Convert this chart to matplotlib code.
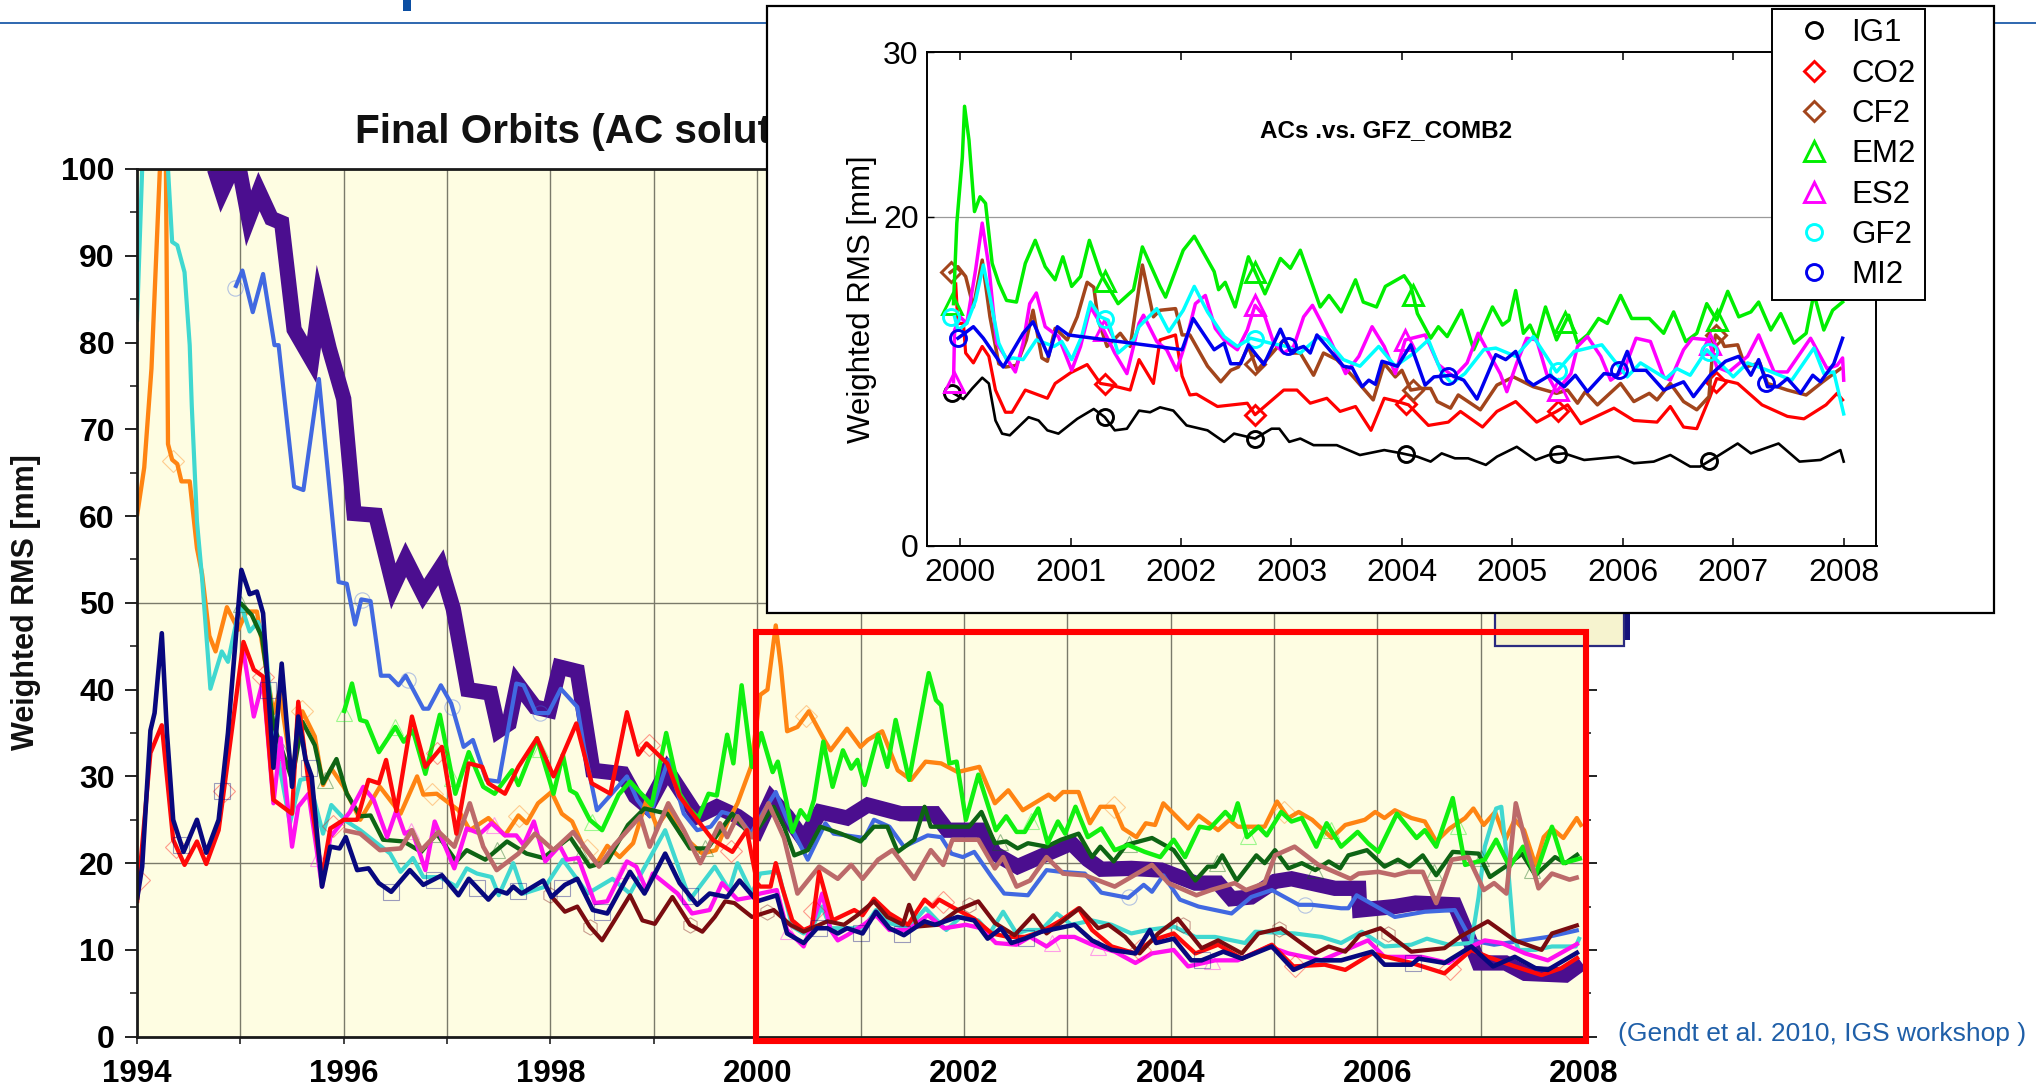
# coding: utf-8
"""
Weighted RMS of the final orbits, with the ACs vs. GFZ_COMB2 panel on top.
Values are read off the picture as (year, rms in mm) knots.
"""

import matplotlib
matplotlib.use("Agg")
import matplotlib.pyplot as plt
import numpy as np
from matplotlib.lines import Line2D
from matplotlib.patches import Rectangle

plt.rcParams['font.family'] = ['Liberation Sans', 'DejaVu Sans']

W, H = 2036, 1086

# ------------------------------------------------------------------------
# main chart

navy = [(1994.0,15.8),(1994.05,19.6),(1994.13,35.3),(1994.17,37.3),(1994.24,46.5),(1994.29,35),(1994.35,25),(1994.45,21.3),
        (1994.58,25),(1994.67,21.2),(1994.79,25),(1994.88,35),(1995.01,53.8),(1995.09,51),(1995.16,51.3),(1995.22,48.8),
        (1995.32,31),(1995.40,43),(1995.50,28.8),(1995.56,36.9),(1995.63,32),(1995.69,30),(1995.79,17.3),(1995.87,21.9),
        (1995.96,21.7),(1996.02,23),(1996.13,19.2),(1996.24,19.4),(1996.34,17.7),(1996.46,16.7),(1996.64,19.2),(1996.77,17.5),
        (1996.95,18.6),(1997.11,16.3),(1997.21,18.2),(1997.40,15.8),(1997.48,16.9),(1997.58,16.5),(1997.64,17.3),(1997.72,16.5),
        (1997.93,18),(1998.01,16.1),(1998.14,17.5),(1998.26,18.2),(1998.41,14.6),(1998.55,14.2),(1998.77,19),(1998.91,16.5),
        (1999.11,21.1),(1999.25,17.7),(1999.42,15.2),(1999.54,16.5),(1999.71,16.1),(1999.83,18),(2000.0,15.6),(2000.19,16.3),
        (2000.29,11.9),(2000.45,10.8),(2000.58,12.5),(2000.68,12.5),(2000.78,11.9),(2000.87,12.5),(2001.02,11.9),(2001.15,14.4),
        (2001.28,12.5),(2001.42,11.7),(2001.62,13.3),(2001.72,12.9),(2001.94,13.8),(2002.10,13.4),(2002.23,11.3),(2002.36,12.5),
        (2002.46,10.8),(2002.59,11.3),(2002.75,12.1),(2003.07,12.9),(2003.24,11.1),(2003.43,10),(2003.66,9.6),(2003.80,12.3),
        (2003.86,10.8),(2004.03,11.3),(2004.20,8.8),(2004.30,8.8),(2004.51,9.8),(2004.69,9),(2004.98,10.4),(2005.19,7.7),
        (2005.40,8.8),(2005.65,8.8),(2005.95,9.8),(2006.07,8.3),(2006.33,8.3),(2006.40,9),(2006.65,8.5),(2006.91,10.4),
        (2007.12,8.1),(2007.33,9.2),(2007.53,7.9),(2007.65,7.7),(2007.95,9.8)]

red = [(1994.0,15.4),(1994.13,32.7),(1994.24,35.9),(1994.35,22.7),(1994.46,19.8),(1994.58,22.5),(1994.67,19.9),(1994.79,23.8),
       (1994.88,31.9),(1995.03,45.5),(1995.13,42.3),(1995.22,41.5),(1995.32,27.3),(1995.50,25.7),(1995.56,38.6),(1995.67,28.4),
       (1995.79,18.4),(1995.87,24),(1996.0,25),(1996.13,25),(1996.24,29.6),(1996.34,29.2),(1996.41,31.9),(1996.51,26),
       (1996.66,36.9),(1996.79,31.1),(1996.95,33.4),(1997.09,23.4),(1997.21,31.5),(1997.34,31.1),(1997.40,29.2),(1997.56,28),
       (1997.69,31.1),(1997.87,34.4),(1998.03,30),(1998.25,36.1),(1998.40,29.2),(1998.58,28),(1998.74,37.4),(1998.85,32.5),
       (1998.93,33.8),(1999.13,31.5),(1999.25,27.7),(1999.42,25),(1999.57,22.7),(1999.76,21.3),(1999.90,23.8),(2000.0,17.7),
       (2000.03,17.3),(2000.13,17.3),(2000.18,20),(2000.24,17.3),(2000.34,13.4),(2000.45,12.3),(2000.53,12.7),(2000.60,19),
       (2000.73,13.4),(2000.94,14.6),(2001.02,14),(2001.13,15.9),(2001.28,14.2),(2001.46,12.9),(2001.62,15.8),(2001.70,15),
       (2001.76,15.8),(2001.91,14.8),(2002.10,13.6),(2002.27,11.9),(2002.43,11.5),(2002.59,11.5),(2002.75,12.1),(2002.94,13.4),
       (2003.11,14.8),(2003.24,12.3),(2003.43,10.4),(2003.66,9.6),(2003.82,11.1),(2004.03,11.9),(2004.24,9.6),(2004.46,10.6),
       (2004.69,9),(2004.98,10.6),(2005.19,8.1),(2005.49,8.3),(2005.69,7.7),(2005.95,9.6),(2006.33,8.5),(2006.65,7.3),
       (2006.91,10),(2007.07,9.2),(2007.33,8.1),(2007.59,7.1),(2007.78,7.9),(2007.95,9.2)]

orange = [(1994.0,60),(1994.07,65.6),(1994.14,77),(1994.22,99.6),(1994.25,103),(1994.28,100),(1994.30,68.3),(1994.34,66.5),
          (1994.39,66),(1994.43,64),(1994.51,64),(1994.58,56.3),(1994.63,53.3),(1994.70,46.2),(1994.76,44.4),(1994.87,49.5),
          (1994.98,46.9),(1995.06,49),(1995.16,49),(1995.32,37.3),(1995.38,39.8),(1995.50,30.3),(1995.60,37.5),(1995.72,34.6),
          (1995.80,29),(1995.88,30.9),(1996.0,28.8),(1996.16,25),(1996.35,28.8),(1996.55,25.7),(1996.71,30),(1996.77,27.9),
          (1996.90,28),(1997.11,26.1),(1997.22,23.8),(1997.40,25.2),(1997.56,23.2),(1997.69,25.5),(1997.77,24.6),(1997.88,26.9),
          (1998.01,28.2),(1998.11,25.7),(1998.21,24.8),(1998.32,21.9),(1998.45,20),(1998.55,22),(1998.67,20.7),(1998.80,22.3),
          (1998.93,27.3),(1999.03,24.2),(1999.14,26.1),(1999.26,23.4),(1999.47,21.1),(1999.60,21.5),(1999.71,24.6),(1999.81,26.9),
          (1999.94,31.1),(2000.03,39.4),(2000.10,40),(2000.18,47.4),(2000.23,42.6),(2000.29,35.2),(2000.39,35.7),(2000.50,37.5),
          (2000.65,34.2),(2000.71,33),(2000.87,35.5),(2001.0,33.4),(2001.07,34.2),(2001.21,35.2),(2001.36,30.7),(2001.49,29.6),
          (2001.63,31.7),(2001.78,31.5),(2001.94,30.5),(2002.15,31.1),(2002.30,26.9),(2002.43,28.4),(2002.57,26.1),(2002.82,27.9),
          (2002.88,27.3),(2002.96,28.2),(2003.11,28.2),(2003.22,24.6),(2003.32,26.5),(2003.45,26.5),(2003.54,24),(2003.67,23),
          (2003.76,24.6),(2003.85,24.4),(2003.93,26.9),(2004.03,25.7),(2004.17,24),(2004.27,25.5),(2004.35,24.8),(2004.46,23.8),
          (2004.57,25),(2004.65,24.2),(2004.91,24.2),(2005.03,27.1),(2005.14,25.2),(2005.24,25.9),(2005.37,25),(2005.56,22.9),
          (2005.69,24.4),(2005.88,25),(2005.98,25.9),(2006.07,25.2),(2006.17,26.1),(2006.33,25.2),(2006.46,24.8),(2006.57,22.5),
          (2006.70,24),(2006.85,25.2),(2006.93,26.3),(2007.03,24.4),(2007.14,25.9),(2007.24,22.7),(2007.33,25),(2007.42,23.8),
          (2007.53,19.8),(2007.61,23),(2007.69,24),(2007.80,22.9),(2007.93,25.2),(2007.98,24.2)]

turquoise = [(1994.0,82.4),(1994.05,100),(1994.17,104),(1994.30,100),(1994.34,91.6),(1994.39,91.2),(1994.46,88.1),(1994.51,79.7),
             (1994.53,72.7),(1994.58,59.4),(1994.63,52.8),(1994.71,40.1),(1994.82,44.4),(1994.88,43.2),(1995.0,50),(1995.09,46.7),
             (1995.17,47.8),(1995.24,45.7),(1995.32,35),(1995.48,24.6),(1995.58,29.6),(1995.66,29.8),(1995.80,23.4),(1995.88,26.7),
             (1996.03,24.8),(1996.16,23.8),(1996.32,22.3),(1996.45,21.1),(1996.55,19),(1996.67,20.6),(1996.77,18.4),(1996.93,18.4),
             (1997.09,17.3),(1997.19,19.4),(1997.29,18.8),(1997.43,18.4),(1997.50,16.3),(1997.64,20),(1997.74,16.5),(1997.95,17.3),
             (1998.12,20.4),(1998.36,16.5),(1998.60,18.2),(1998.77,16.5),(1999.11,23.8),(1999.35,15.8),(1999.59,19.6),(1999.73,16.9),
             (1999.81,20),(1999.95,16.5),(2000.03,18.8),(2000.16,19),(2000.21,18.8),(2000.34,12.7),(2000.45,11.9),(2000.53,12.5),
             (2000.63,15),(2000.71,12.5),(2000.87,12.5),(2001.03,12.5),(2001.15,14.6),(2001.28,13.1),(2001.46,12.5),(2001.63,14.8),
             (2001.83,12.3),(2001.97,13.8),(2002.14,13.4),(2002.25,11.9),(2002.38,14.4),(2002.51,11.9),(2002.62,12.3),(2002.75,12.3),
             (2002.90,14.2),(2003.04,12.9),(2003.24,13.4),(2003.43,12.9),(2003.62,11.9),(2003.78,12.3),(2004.03,12.7),(2004.24,11.5),
             (2004.43,11.5),(2004.72,10.8),(2004.82,12.1),(2005.20,11.9),(2005.46,11.5),(2005.65,10.8),(2005.85,12.1),(2006.07,10.4),
             (2006.33,10.6),(2006.48,11.3),(2006.69,10.6),(2006.91,10.8),(2006.98,16.1),(2007.04,21.9),(2007.15,26.3),(2007.20,26.5),
             (2007.27,18.8),(2007.32,11.5),(2007.37,10),(2007.53,10),(2007.69,10.4),(2007.92,10.4),(2007.96,11.5)]

purple = [(1994.75,100),(1994.82,97.4),(1994.92,100),(1994.99,100),(1995.08,94.3),(1995.18,97.4),(1995.30,94.3),(1995.40,93.8),
          (1995.52,81.5),(1995.69,78),(1995.76,84.2),(1995.86,79.3),(1996.0,73.5),(1996.10,60.3),(1996.31,60.1),(1996.48,51.9),
          (1996.60,55),(1996.77,51),(1996.94,54.1),(1997.06,49.3),(1997.20,40),(1997.42,39.6),(1997.50,35.3),(1997.60,36.1),
          (1997.68,40.7),(1997.85,38),(1997.99,37.6),(1998.09,42.6),(1998.26,42.1),(1998.41,30.7),(1998.70,30.3),(1998.82,27.7),
          (1998.94,26.5),(1999.13,30.7),(1999.42,25.4),(1999.61,26.5),(1999.81,25.4),(2000.0,23.8),(2000.14,27.4),(2000.29,25.4),
          (2000.45,22.7),(2000.61,25.9),(2000.87,25.2),(2001.07,26.7),(2001.39,25.7),(2001.72,25.7),(2001.84,23.8),(2002.17,23.8),
          (2002.30,21.1),(2002.52,19.6),(2003.04,22.3),(2003.20,20.4),(2003.33,19.3),(2003.62,19.4),(2003.91,19.2),(2004.24,17.7),
          (2004.46,17.7),(2004.59,15.9),(2004.78,16.1),(2005.01,17.9),(2005.17,18.2),(2005.59,17.1),(2005.82,17.1),(2005.83,14.6),
          (2006.17,15),(2006.37,15.4),(2006.75,15.2),(2006.88,11.5),(2006.98,8.5),(2007.24,8.5),(2007.43,7.3),(2007.82,7.1),
          (2007.98,8.5)]

royal = [(1994.95,86.3),(1995.02,88.3),(1995.12,83.5),(1995.22,87.9),(1995.33,79.7),(1995.37,79.7),(1995.52,63.4),(1995.61,63),
         (1995.76,75.8),(1995.95,52.4),(1996.03,52.2),(1996.11,47.5),(1996.17,50.4),(1996.26,50.2),(1996.36,41.6),(1996.44,41.6),
         (1996.53,40.5),(1996.60,41.6),(1996.77,37.8),(1996.82,37.8),(1996.94,40.5),(1997.04,38.4),(1997.16,33.4),(1997.25,34.2),
         (1997.38,29.6),(1997.50,29.4),(1997.67,40.7),(1997.74,40.5),(1997.86,37.3),(1997.98,37.3),(1998.10,40.1),(1998.26,38),
         (1998.33,33),(1998.45,26.1),(1998.57,27.7),(1998.74,30),(1998.84,27.3),(1998.96,25.4),(1999.14,31.9),(1999.29,25.7),
         (1999.42,23.8),(1999.55,24.2),(1999.66,25.9),(1999.81,25.4),(1999.94,23.4),(2000.05,25.7),(2000.18,28.2),(2000.29,25),
         (2000.49,20.4),(2000.66,24.6),(2000.74,23.4),(2001.04,22.9),(2001.13,25),(2001.28,24.2),(2001.42,21.9),(2001.65,23.2),
         (2001.78,23),(2001.88,21.1),(2001.99,20.7),(2002.10,21.3),(2002.27,18.4),(2002.39,16.5),(2002.62,16.3),(2002.80,19.2),
         (2002.94,19),(2003.17,18.8),(2003.33,16.6),(2003.59,16),(2003.74,17.5),(2003.82,16.7),(2003.93,18.6),(2004.09,15.8),
         (2004.27,15),(2004.59,14.2),(2004.78,16.1),(2004.98,16.9),(2005.24,15.2),(2005.37,15.2),(2005.65,14.8),(2005.72,14.8),
         (2005.80,16.3),(2006.17,13.8),(2006.46,14.4),(2006.75,14.6),(2006.91,11.1),(2007.13,10.6),(2007.43,11.1),(2007.65,11.5),
         (2007.95,12.3)]

lime = [(1996.0,37.3),(1996.08,40.7),(1996.16,36.5),(1996.22,36.3),(1996.34,32.8),(1996.50,35.7),(1996.58,34),(1996.67,35.3),
        (1996.79,30.3),(1996.93,37.1),(1997.08,28),(1997.21,32.8),(1997.35,28.8),(1997.46,28),(1997.63,30.7),(1997.69,29),
        (1997.87,34.4),(1998.03,28),(1998.12,32.5),(1998.19,28.4),(1998.25,28),(1998.38,25),(1998.50,23.8),(1998.66,27.9),
        (1998.77,29.4),(1998.98,26.7),(1999.12,35),(1999.25,28),(1999.34,26.3),(1999.43,25.2),(1999.53,28),(1999.61,27.8),
        (1999.71,34.8),(1999.77,31.5),(1999.85,40.5),(1999.95,31.1),(2000.04,35),(2000.15,30.5),(2000.20,31.7),(2000.28,27.3),
        (2000.34,23.6),(2000.42,26.1),(2000.49,25),(2000.55,27.3),(2000.64,34),(2000.73,28.8),(2000.83,33),(2000.91,30.9),
        (2000.97,31.9),(2001.04,29),(2001.17,34.8),(2001.26,31.1),(2001.34,36.5),(2001.47,29.6),(2001.66,41.9),(2001.73,38.8),
        (2001.78,38.2),(2001.86,31.5),(2001.93,31.7),(2002.02,25),(2002.14,30.2),(2002.31,23.8),(2002.41,25.4),(2002.51,23.6),
        (2002.59,23.6),(2002.72,26.3),(2002.81,22.3),(2002.91,24.8),(2002.98,23.4),(2003.08,26.5),(2003.20,23),(2003.33,24),
        (2003.46,21.5),(2003.59,22.1),(2003.75,21.3),(2003.90,20.7),(2004.03,22.7),(2004.14,20.7),(2004.28,24.2),(2004.38,24),
        (2004.53,25.9),(2004.60,25),(2004.65,26.9),(2004.74,23),(2004.85,24.2),(2004.93,23.2),(2005.07,25.9),(2005.17,24.8),
        (2005.27,25.2),(2005.41,21.9),(2005.51,24.6),(2005.65,21.9),(2005.81,23.6),(2005.91,22.3),(2006.01,21.3),(2006.19,25.7),
        (2006.38,22.9),(2006.46,23.8),(2006.57,21.9),(2006.73,27.5),(2006.85,19.8),(2007.04,20.4),(2007.15,22.7),(2007.28,19.6),
        (2007.41,21.9),(2007.53,18.6),(2007.69,24.2),(2007.80,20),(2007.98,20.6)]

dark_green = [(1995.0,50),(1995.11,48.6),(1995.21,46),(1995.32,36),(1995.50,29.6),(1995.60,36.3),(1995.72,33.6),(1995.80,29.2),
              (1995.93,32),(1996.03,28),(1996.16,25.4),(1996.26,25.5),(1996.38,22.7),(1996.58,22.5),(1996.75,21.3),(1996.90,23.4),
              (1997.09,20.2),(1997.19,21.5),(1997.37,20.4),(1997.58,22.5),(1997.77,21.1),(1997.93,20.6),(1998.19,23),(1998.38,19.6),
              (1998.55,20.2),(1998.75,24.4),(1998.91,26.3),(1999.13,25.7),(1999.35,21.7),(1999.52,21.7),(1999.76,25.7),(1999.95,23),
              (2000.16,26.5),(2000.26,24.2),(2000.36,20.9),(2000.49,21.5),(2000.61,24.2),(2000.81,23.4),(2001.0,22.5),(2001.13,24.2),
              (2001.26,24.2),(2001.36,21.3),(2001.52,22.7),(2001.62,26.5),(2001.68,24.2),(2001.91,24.2),(2002.05,24.2),(2002.17,25.9),
              (2002.30,22.3),(2002.41,22.5),(2002.52,21.7),(2002.62,22.3),(2002.80,21.9),(2002.94,22.7),(2003.11,23.4),(2003.24,20.7),
              (2003.32,21.9),(2003.45,20.2),(2003.57,22.1),(2003.82,22.9),(2004.03,21.5),(2004.24,18),(2004.36,19.6),(2004.43,19.6),
              (2004.50,20.9),(2004.64,18),(2004.83,20.9),(2004.91,20),(2005.01,21.5),(2005.14,19.4),(2005.27,20),(2005.40,19.2),
              (2005.53,20.2),(2005.64,19.4),(2005.72,20.9),(2005.90,21.5),(2006.07,19.6),(2006.20,20.4),(2006.31,19.6),(2006.44,20.9),
              (2006.57,18.6),(2006.73,21.3),(2006.98,21.1),(2007.09,18.4),(2007.24,19.6),(2007.40,21.1),(2007.53,18.6),(2007.72,20.7),
              (2007.82,20),(2007.95,21.1)]

magenta = [(1995.03,44.4),(1995.13,36.9),(1995.22,41.1),(1995.32,26.9),(1995.39,34.4),(1995.50,21.9),(1995.56,26.5),(1995.66,28),
           (1995.79,17.3),(1995.87,23),(1996.06,25.9),(1996.19,28.8),(1996.29,27.3),(1996.42,23),(1996.51,26.1),(1996.59,23.4),
           (1996.66,23.8),(1996.79,19.2),(1996.88,24.8),(1997.07,19.4),(1997.19,24),(1997.32,23.4),(1997.43,24.6),(1997.56,23.2),
           (1997.67,23.2),(1997.74,22.1),(1997.84,24.8),(1997.95,20.2),(1998.09,22),(1998.16,20.4),(1998.27,20.6),(1998.43,15.4),
           (1998.55,15.6),(1998.74,20.2),(1998.83,19.6),(1998.93,16.9),(1998.99,18.8),(1999.23,16.5),(1999.37,14.2),(1999.54,14.6),
           (1999.66,17.7),(1999.81,15.8),(1999.95,16.1),(2000.03,16.5),(2000.19,16.9),(2000.29,12.3),(2000.45,10.4),(2000.53,12.9),
           (2000.63,16.5),(2000.71,12.3),(2000.78,11.1),(2000.87,11.7),(2001.03,12.9),(2001.15,14),(2001.28,12.3),(2001.46,12.3),
           (2001.65,14),(2001.81,12.5),(2002.02,12.9),(2002.17,12.5),(2002.31,10.8),(2002.51,10.6),(2002.64,11.5),(2002.80,10.4),
           (2002.93,11.5),(2003.07,11.5),(2003.24,10.6),(2003.46,9.8),(2003.66,8.5),(2003.82,9.6),(2004.03,10),(2004.17,8.1),
           (2004.43,8.8),(2004.65,8.8),(2004.95,10.4),(2005.14,9.6),(2005.46,8.8),(2005.91,11.1),(2006.07,9.2),(2006.43,9.2),
           (2006.69,8.5),(2006.91,10.4),(2007.04,11.1),(2007.20,10.8),(2007.43,9.6),(2007.65,8.8),(2007.95,10.8)]

maroon = [(1998.0,16.3),(1998.14,14.4),(1998.26,15),(1998.38,12.7),(1998.50,11.1),(1998.62,13.4),(1998.77,16.3),(1998.89,13.4),
          (1999.01,13),(1999.18,16.1),(1999.35,12.9),(1999.47,12.1),(1999.59,13.8),(1999.69,15.6),(1999.78,15.4),(1999.95,13.8),
          (2000.16,14.6),(2000.32,12.9),(2000.45,12.1),(2000.68,13.3),(2000.84,12.9),(2000.97,14),(2001.13,15.6),(2001.26,13.8),
          (2001.41,12.9),(2001.47,15.2),(2001.55,12.7),(2001.75,12.9),(2001.94,14.6),(2002.14,15.6),(2002.30,13.1),(2002.49,11.7),
          (2002.67,14),(2002.80,11.9),(2002.91,12.9),(2003.12,14.8),(2003.30,12.5),(2003.40,12.9),(2003.56,11.5),(2003.70,9.6),
          (2003.88,11.9),(2004.07,13.6),(2004.30,10.2),(2004.46,11.1),(2004.69,9.6),(2004.85,11.9),(2005.07,12.5),(2005.40,9.6),
          (2005.53,10.4),(2005.69,9.8),(2005.83,11.7),(2006.03,12.5),(2006.33,9.8),(2006.65,10.2),(2006.80,11.5),(2007.07,13.3),
          (2007.33,11.1),(2007.59,10),(2007.69,11.9),(2007.95,12.9)]

rosy = [(1996.0,23.8),(1996.16,23.4),(1996.35,21.5),(1996.55,21.7),(1996.66,23.8),(1996.75,21.5),(1996.92,23.6),(1997.07,21.9),
        (1997.22,26.9),(1997.35,21.9),(1997.48,19.2),(1997.69,21.1),(1997.85,23.4),(1998.03,21.5),(1998.22,23.6),(1998.47,19.6),
        (1998.62,22.1),(1998.87,25.4),(1998.96,21.9),(1999.14,26.9),(1999.29,23.8),(1999.45,20),(1999.64,24.6),(1999.71,23),
        (1999.81,25.4),(1999.95,23),(2000.11,26.9),(2000.26,22.9),(2000.39,16.5),(2000.60,19.6),(2000.78,18.2),(2000.91,19.8),
        (2001.02,18.2),(2001.17,20.4),(2001.31,21.5),(2001.52,18.2),(2001.68,21.5),(2001.80,19.8),(2001.89,22.7),(2002.14,22.7),
        (2002.30,19.4),(2002.38,20.7),(2002.51,17.3),(2002.64,18),(2002.80,20.7),(2002.96,18.8),(2003.17,18.6),(2003.46,17.3),
        (2003.82,19.8),(2003.98,17.7),(2004.25,16.3),(2004.39,16.9),(2004.62,17.7),(2004.73,16.9),(2004.91,17.7),(2005.01,20.9),
        (2005.20,21.9),(2005.43,19.8),(2005.74,18.2),(2005.82,18.8),(2006.01,19),(2006.17,18.6),(2006.30,19),(2006.44,19),
        (2006.57,15.4),(2006.72,20.4),(2006.88,20.7),(2007.03,16.9),(2007.13,17.7),(2007.25,16.5),(2007.34,26.9),(2007.43,22.7),
        (2007.56,17.1),(2007.69,18.8),(2007.86,18.1),(2007.95,18.4)]

navy_marks = [1994.43, 1994.82, 1995.27, 1995.66, 1996.46, 1996.87, 1997.29, 1997.69, 1998.11, 1998.5, 1999.35, 2000.6, 2001.0, 2001.4, 2002.6, 2004.3, 2006.35]
red_marks = [1994.02, 1994.38, 1994.84, 1995.22, 1995.9, 1996.9, 1998.95, 1999.75, 2000.55, 2001.8, 2003.7, 2005.2, 2006.7]
green_marks = [1995.01, 1995.41, 1995.82, 1996.9, 1997.48, 1998.3, 1999.5, 2002.35, 2003.6, 2004.45, 2005.4, 2006.55, 2007.0, 2007.5]
magenta_marks = [1995.75, 1996.65, 1997.45, 1998.7, 2000.3, 2002.85, 2003.3, 2004.4]
lime_marks = [1996.0, 1996.5, 1997.05, 1997.9, 1998.4, 2002.65, 2004.75, 2005.55, 2006.78]
orange_marks = [1994.35, 1995.6, 1996.85, 1997.7, 1998.35, 2000.47, 2003.45, 2005.1]
royal_marks = [1994.95, 1996.18, 1996.62, 1997.05, 1997.9, 2003.6, 2005.3]
maroon_marks = [1998.0, 1998.38, 1999.35, 2000.1, 2002.05, 2004.12, 2005.05, 2006.1]

# ------------------------------------------------------------------------
# inset panel

ig1 = [(1999.94,9.25),(2000.03,8.9),(2000.11,9.55),(2000.20,10.2),(2000.26,9.85),(2000.32,7.6),(2000.38,6.8),(2000.45,6.7),
       (2000.62,7.8),(2000.71,7.6),(2000.79,7),(2000.89,6.8),(2001.06,7.7),(2001.21,8.3),(2001.31,7.8),(2001.40,7),(2001.51,7.1),
       (2001.62,8.2),(2001.72,8.1),(2001.81,8.4),(2001.93,8.2),(2002.05,7.3),(2002.24,7),(2002.39,6.3),(2002.48,6.8),(2002.67,6.5),
       (2002.82,7.1),(2002.89,7.1),(2002.98,6.3),(2003.08,6.5),(2003.20,6.1),(2003.41,6.1),(2003.62,5.5),(2003.84,5.8),(2004.0,5.6),
       (2004.14,5.4),(2004.26,5.1),(2004.36,5.6),(2004.48,5.3),(2004.60,5.3),(2004.76,4.9),(2004.86,5.4),(2005.04,6),(2005.21,5.2),
       (2005.33,5.5),(2005.47,5.6),(2005.65,5.2),(2005.96,5.4),(2006.10,5),(2006.28,5.1),(2006.43,5.5),(2006.61,4.8),(2006.70,4.8),
       (2006.85,5.4),(2007.04,6.2),(2007.16,5.6),(2007.41,6.2),(2007.60,5.1),(2007.79,5.2),(2007.97,5.8),(2008.0,5.1)]

co2 = [(1999.96,15.9),(1999.98,13.5),(2000.03,13.5),(2000.05,11.7),(2000.12,11.1),(2000.20,12.1),(2000.26,11.5),(2000.32,9.45),
       (2000.41,8.1),(2000.47,8.1),(2000.59,9.45),(2000.79,8.95),(2000.86,9.85),(2001.0,10.5),(2001.15,11),(2001.27,9.85),(2001.36,9.75),
       (2001.54,9.45),(2001.62,11.3),(2001.75,9.85),(2001.81,12.5),(2001.95,12.8),(2002.01,10.3),(2002.08,9.15),(2002.14,9.2),
       (2002.33,8.45),(2002.60,8.65),(2002.67,7.95),(2002.93,9.45),(2003.05,9.45),(2003.17,8.65),(2003.32,8.95),(2003.44,8.15),
       (2003.58,8.45),(2003.72,7),(2003.84,8.95),(2003.96,8.75),(2004.06,8.55),(2004.24,7.3),(2004.42,7.5),(2004.53,8.15),(2004.73,7.2),
       (2004.86,8.15),(2005.03,8.75),(2005.22,7.5),(2005.40,8.15),(2005.50,8.55),(2005.62,7.4),(2005.92,8.35),(2006.10,7.6),(2006.31,7.5),
       (2006.43,8.45),(2006.55,7.2),(2006.67,7.1),(2006.79,9.05),(2006.85,10.15),(2007.04,9.85),(2007.26,8.55),(2007.49,7.85),(2007.64,7.7),
       (2007.84,8.55),(2007.94,9.25),(2007.99,8.85)]

cf2 = [(1999.91,16.6),(1999.98,16.95),(2000.05,16.35),(2000.12,14.5),(2000.20,17.35),(2000.27,13.9),(2000.35,11.05),(2000.41,10.85),
       (2000.51,10.95),(2000.60,12.5),(2000.66,14.3),(2000.74,11.4),(2000.79,11.2),(2000.86,13.2),(2000.97,12.5),(2001.06,13.9),(2001.15,16),
       (2001.21,15.7),(2001.25,13.7),(2001.33,12.1),(2001.45,12.9),(2001.54,12.1),(2001.65,17.05),(2001.75,13.9),(2001.81,14.3),(2001.95,14.4),
       (2002.01,12.8),(2002.08,12.8),(2002.24,10.9),(2002.36,9.95),(2002.45,10.65),(2002.52,10.85),(2002.61,12.1),(2002.69,10.65),(2002.93,12.5),
       (2003.02,11.7),(2003.08,11.7),(2003.20,10.35),(2003.29,11.7),(2003.41,11.3),(2003.56,10.25),(2003.74,8.85),(2003.84,11.05),(2003.94,10.25),
       (2004.0,10.65),(2004.08,9.45),(2004.17,9.55),(2004.26,9.55),(2004.32,8.75),(2004.44,8.35),(2004.51,9.15),(2004.71,8.25),(2004.86,9.75),
       (2005.01,10.25),(2005.19,9.65),(2005.40,9.25),(2005.50,9.45),(2005.59,8.65),(2005.66,9.35),(2005.77,8.55),(2005.98,9.85),(2006.10,8.75),
       (2006.24,9.25),(2006.31,8.85),(2006.43,9.85),(2006.55,8.75),(2006.67,8.25),(2006.78,9.05),(2006.81,11.5),(2006.84,12.8),(2006.90,12.4),
       (2006.92,12.1),(2007.04,12.2),(2007.11,10.85),(2007.24,11.1),(2007.31,9.85),(2007.49,9.45),(2007.66,9.15),(2007.81,9.95),(2007.97,10.75)]

em2 = [(1999.94,14.7),(1999.97,19.6),(2000.02,23.6),(2000.04,26.7),(2000.08,24.65),(2000.13,20.3),(2000.18,21.2),(2000.23,20.8),
       (2000.29,17.15),(2000.35,15.95),(2000.42,14.9),(2000.51,14.8),(2000.59,17.15),(2000.68,18.55),(2000.77,16.95),(2000.86,16.15),
       (2000.93,17.55),(2001.01,15.75),(2001.09,16.35),(2001.17,18.55),(2001.27,16.55),(2001.43,14.7),(2001.57,15.55),(2001.65,18.15),
       (2001.81,15.75),(2001.86,15.1),(2002.02,17.95),(2002.12,18.8),(2002.30,16.65),(2002.34,15.55),(2002.40,16),(2002.49,14.5),
       (2002.61,17.55),(2002.76,15.3),(2002.90,17.45),(2002.99,16.85),(2003.08,17.95),(2003.26,14.5),(2003.34,15.2),(2003.45,14.2),
       (2003.58,16.15),(2003.65,14.8),(2003.77,14.5),(2003.85,15.75),(2004.02,16.4),(2004.08,15.8),(2004.14,14.1),(2004.26,12.6),
       (2004.33,13.3),(2004.41,12.7),(2004.54,14.3),(2004.65,11.9),(2004.82,14.5),(2004.91,13.4),(2004.97,13.7),(2005.03,15.5),(2005.10,12.9),
       (2005.16,13.4),(2005.22,12.5),(2005.30,14.5),(2005.40,12.5),(2005.51,14),(2005.59,12.3),(2005.68,12.8),(2005.78,13.8),(2005.86,13.5),
       (2005.98,15.2),(2006.08,13.8),(2006.24,13.8),(2006.37,12.9),(2006.46,14.2),(2006.57,12.4),(2006.67,12.9),(2006.76,14.7),(2006.85,13.7),
       (2006.95,15.45),(2007.05,13.9),(2007.16,14.2),(2007.23,14.8),(2007.34,13.1),(2007.43,14.1),(2007.55,12.3),(2007.66,12.9),(2007.73,15.3),
       (2007.82,13.1),(2007.90,14.3),(2007.99,14.8)]

es2 = [(1999.94,9.95),(1999.95,13.1),(2000.0,13.9),(2000.06,13.5),(2000.14,16.75),(2000.20,19.6),(2000.26,16.95),(2000.33,12.3),
       (2000.50,10.55),(2000.57,12.3),(2000.63,14.7),(2000.69,15.35),(2000.77,13.3),(2000.89,12.7),(2001.01,10.65),(2001.09,12.1),(2001.18,14.5),
       (2001.27,13.5),(2001.40,11.7),(2001.51,10.45),(2001.62,13.5),(2001.66,14),(2001.78,12.4),(2001.87,11.9),(2001.96,10.65),(2002.04,12.3),
       (2002.13,14.7),(2002.22,15.2),(2002.31,13.2),(2002.39,12.5),(2002.51,11.9),(2002.60,13.1),(2002.67,14.6),(2002.76,13.9),(2002.84,12.3),
       (2002.93,11.7),(2003.02,12.1),(2003.11,13.9),(2003.19,14.6),(2003.26,13.7),(2003.35,12.5),(2003.49,10.45),(2003.61,11.5),(2003.73,13.3),
       (2003.84,12.1),(2003.94,10.45),(2004.03,12.5),(2004.21,12.8),(2004.33,11),(2004.47,10.25),(2004.59,11.1),(2004.69,12.9),(2004.77,11.9),
       (2004.89,10.45),(2004.95,9.35),(2005.04,11.1),(2005.13,12.6),(2005.22,12.5),(2005.31,10.45),(2005.40,9.35),(2005.53,10.45),(2005.59,12.1),
       (2005.68,12.7),(2005.80,11.5),(2005.89,10.05),(2006.01,10.65),(2006.12,12.6),(2006.25,12.4),(2006.37,10.25),(2006.43,10.05),(2006.55,11.9),
       (2006.63,12.6),(2006.78,12.5),(2006.85,10.85),(2006.96,10.55),(2007.13,11.5),(2007.23,12.8),(2007.37,10.55),(2007.49,10.55),(2007.70,12.6),
       (2007.85,10.75),(2007.94,10.95),(2007.99,11.4),(2008.0,10.05)]

gf2 = [(1999.95,13.9),(1999.98,13.1),(2000.06,13.5),(2000.14,14.9),(2000.21,17.05),(2000.27,15.1),(2000.35,12.3),(2000.42,11.3),
       (2000.48,11.4),(2000.57,11.3),(2000.69,12.5),(2000.85,12.1),(2000.92,12.4),(2001.01,11.3),(2001.10,12.7),(2001.18,14.8),(2001.27,13.9),
       (2001.34,13.7),(2001.43,11.7),(2001.57,12.5),(2001.62,13.3),(2001.78,14.4),(2001.89,13),(2002.02,14.3),(2002.12,15.75),(2002.24,14.2),
       (2002.39,12.7),(2002.51,12.1),(2002.63,12.6),(2002.81,12.3),(2002.96,12.1),(2003.08,11.7),(2003.25,12.7),(2003.32,12.5),(2003.47,11.3),
       (2003.62,10.9),(2003.79,12.1),(2003.94,10.9),(2004.11,11.7),(2004.24,12.5),(2004.35,10.65),(2004.45,9.85),(2004.57,10.45),(2004.74,11.9),
       (2004.85,12),(2005.03,11.5),(2005.19,12.7),(2005.40,10.55),(2005.56,11.8),(2005.81,12.2),(2006.04,10.25),(2006.16,11.1),(2006.39,10.15),
       (2006.49,10.75),(2006.61,10.35),(2006.76,11.9),(2007.0,10.25),(2007.13,11.1),(2007.31,10.65),(2007.53,10.05),(2007.73,12),(2007.82,10.45),
       (2007.91,10.55),(2008.0,8)]

mi2 = [(1999.98,12.6),(2000.12,13.3),(2000.21,12.6),(2000.39,10.85),(2000.57,12.9),(2000.66,13.6),(2000.80,11.5),(2000.88,13.3),(2000.98,12.8),
       (2002.01,11.9),(2002.11,13.8),(2002.19,13),(2002.30,11.9),(2002.39,12.3),(2002.45,11.05),(2002.54,11.05),(2002.61,12.2),(2002.75,11),
       (2002.90,13.15),(2002.99,11.8),(2003.11,12.1),(2003.17,11.7),(2003.23,12.8),(2003.47,10.9),(2003.55,10.8),(2003.64,9.65),(2003.70,10.05),
       (2003.76,9.8),(2003.82,11.2),(2003.96,10.9),(2004.08,12.2),(2004.21,9.75),(2004.29,10.25),(2004.45,10.35),(2004.56,10.05),(2004.68,8.9),
       (2004.85,11.6),(2004.94,11.3),(2005.03,11.8),(2005.13,10.05),(2005.19,9.75),(2005.34,10.35),(2005.47,9.65),(2005.57,10.35),(2005.68,9.35),
       (2005.83,10.45),(2005.95,10.35),(2006.04,11.8),(2006.10,10.65),(2006.21,10.65),(2006.37,9.45),(2006.55,9.95),(2006.64,9.05),(2006.79,10.35),
       (2006.93,11.2),(2007.05,11.5),(2007.16,10.35),(2007.23,11.3),(2007.31,9.65),(2007.40,9.65),(2007.49,10.15),(2007.61,9.25),(2007.72,10.35),
       (2007.79,9.95),(2007.91,11.05),(2007.99,12.6)]

ig1_marks = [1999.93, 2001.31, 2002.67, 2004.04, 2005.41, 2006.78]
co2_marks = [2001.31, 2002.67, 2004.04, 2005.41, 2006.84]
cf2_marks = [1999.92, 2002.67, 2004.1, 2006.84]
em2_marks = [1999.93, 2001.31, 2002.67, 2004.1, 2005.48, 2006.85]
es2_marks = [1999.94, 2001.3, 2002.67, 2004.03, 2005.41, 2006.79]
gf2_marks = [1999.92, 2001.31, 2002.67, 2005.41, 2006.78]
mi2_marks = [1999.98, 2002.97, 2004.42, 2005.97, 2007.3]

inset_names = ["IG1", "CO2", "CF2", "EM2", "ES2", "GF2", "MI2"]
main_year_labels = [1994, 1996, 1998, 2000, 2002, 2004, 2006, 2008]
inset_years = [2000, 2001, 2002, 2003, 2004, 2005, 2006, 2007, 2008]


# ------------------------------------------------------------------------

def axes_from_pixels(fig, left, top, right, bottom, **kwargs):
    return fig.add_axes([left / W, 1 - bottom / H, (right - left) / W, (bottom - top) / H], **kwargs)


def pixel_rect(fig, left, top, right, bottom, **kwargs):
    patch = Rectangle((left / W, 1 - bottom / H), (right - left) / W, (bottom - top) / H,
                      transform=fig.transFigure, **kwargs)
    fig.add_artist(patch)


def draw_series(ax, knots, color, width, **kwargs):
    knots = sorted(knots, key=lambda k: k[0])
    years, rms = np.array(knots).T
    ax.plot(years, rms, color=color, lw=width, **kwargs)
    return years, rms


def draw_main(fig):
    ax = axes_from_pixels(fig, 137, 169, 1584, 1036.7, zorder=1, facecolor="#fefde2")
    ax.set_xlim(1994, 2008)
    ax.set_ylim(0, 100)

    styles = [
        (purple, "#4b0e8f", 11, None, None),
        (royal, "#4169e1", 3.0, "o", royal_marks),
        (orange, "#ff8412", 3.1, "D", orange_marks),
        (turquoise, "#40d8d0", 3.0, None, None),
        (dark_green, "#0e6414", 3.1, "^", green_marks),
        (lime, "#10f010", 3.2, "^", lime_marks),
        (magenta, "#ff10f0", 3.1, "^", magenta_marks),
        (rosy, "#bc6a6a", 3.3, None, None),
        (red, "#ff0808", 3.1, "D", red_marks),
        (maroon, "#7a0c10", 3.0, "h", maroon_marks),
        (navy, "#08087e", 3.3, "s", navy_marks),
    ]
    for knots, color, width, marker, marks in styles:
        join = "miter" if width > 5 else "round"
        years, rms = draw_series(ax, knots, color, width, solid_joinstyle=join, solid_capstyle="butt")
        if marker:
            ax.plot(marks, np.interp(marks, years, rms), ls="none", marker=marker, ms=11,
                    mfc="none", mec=color, mew=0.8, alpha=0.4)

    ax.set_xticks(main_year_labels)
    ax.set_xticks(np.arange(1995, 2008, 2), minor=True)
    ax.set_yticks(np.arange(0, 101, 10))
    ax.set_yticks(np.arange(5, 100, 10), minor=True)
    ax.set_xticklabels([str(y) for y in main_year_labels], fontsize=22.5, fontweight="bold")
    ax.set_yticklabels([str(v) for v in range(0, 101, 10)], fontsize=23, fontweight="bold")
    ax.tick_params(axis="x", which="major", length=5, width=1.2, pad=11, color="#222222")
    ax.tick_params(axis="x", which="minor", length=5, width=1.2, color="#222222")
    ax.tick_params(axis="y", which="major", length=9, width=1.4, pad=7, right=True, color="#222222")
    ax.tick_params(axis="y", which="minor", length=5, width=1.2, right=True, color="#222222")

    for year in range(1995, 2008):
        ax.axvline(year, color="#7a7a6a", lw=1.0, zorder=0.5)
    for value in [20, 50]:
        ax.axhline(value, color="#7a7a6a", lw=1.0, zorder=0.5)
    for side in ["left", "top", "bottom", "right"]:
        ax.spines[side].set_linewidth(2.0)
        ax.spines[side].set_color("#1a1a1a")

    fig.text(355 / W, 1 - 132 / H, "Final Orbits (AC solutions)", fontsize=29.2, fontweight="bold",
             ha="left", va="center", color="#111111")
    fig.text(26 / W, 1 - 602 / H, "Weighted RMS [mm]", fontsize=22, fontweight="bold",
             rotation=90, ha="center", va="center", color="#111111")


def draw_inset(fig):
    pixel_rect(fig, 767, 6, 1994, 613, facecolor="white", edgecolor="black", lw=1.6, zorder=4)
    ax = axes_from_pixels(fig, 927, 52, 1876.5, 545.5, zorder=5, facecolor="none")
    ax.set_xlim(1999.70, 2008.297)
    ax.set_ylim(0, 30)

    styles = [
        (ig1, "black", 1.9, "o", ig1_marks),
        (co2, "#ff0000", 2.3, "D", co2_marks),
        (cf2, "#a2451c", 2.5, "D", cf2_marks),
        (em2, "#00ee00", 2.5, "^", em2_marks),
        (es2, "#ff00ff", 2.5, "^", es2_marks),
        (gf2, "#00ffff", 2.5, "o", gf2_marks),
        (mi2, "#0000ee", 2.5, "o", mi2_marks),
    ]
    marker_sizes = {"o": 11.5, "D": 10, "^": 15}
    handles = []
    for (knots, color, width, marker, marks), name in zip(styles, inset_names):
        years, rms = draw_series(ax, knots, color, width)
        ms = marker_sizes[marker]
        ax.plot(marks, np.interp(marks, years, rms), ls="none", marker=marker, ms=ms,
                mfc="none", mec=color, mew=2.1)
        handles.append(Line2D([], [], ls="none", marker=marker, ms=ms, mfc="none", mec=color, mew=2.1, label=name))

    ax.axhline(20, color="#9a9a9a", lw=0.9, zorder=0)
    ax.set_xticks(inset_years)
    ax.set_yticks([0, 20, 30])
    ax.tick_params(axis="x", direction="in", top=True, length=6, width=1.1, pad=9, labelsize=23)
    ax.tick_params(axis="y", direction="in", length=5, width=1.0, pad=6, labelsize=23)
    ax.set_ylabel("Weighted RMS [mm]", fontsize=22.5)
    ax.yaxis.set_label_coords((877 - 927) / (1876.5 - 927), 0.5)
    for side in ax.spines:
        ax.spines[side].set_linewidth(1.4)
    ax.text(1260 / W, 1 - 131 / H, "ACs .vs. GFZ_COMB2", transform=fig.transFigure, fontsize=17.5,
            fontweight="bold", ha="left", va="center")

    leg = ax.legend(handles=handles, loc="upper left", bbox_to_anchor=(1772 / W, 1 - 9 / H),
                    bbox_transform=fig.transFigure, fontsize=22.5, frameon=True, fancybox=False,
                    framealpha=1, edgecolor="black", borderaxespad=0, borderpad=0.3,
                    labelspacing=0.33, handlelength=2.1, handletextpad=0.13)
    leg.get_frame().set_linewidth(1.4)


def run():
    fig = plt.figure(figsize=(W / 100, H / 100), dpi=100, facecolor="white")

    # slide rule and the stub of the heading above it
    fig.add_artist(Line2D([0, 1], [1 - 22.7 / H] * 2, color="#0b4ea2", lw=1.2, zorder=0))
    pixel_rect(fig, 403, 0, 411, 11, facecolor="#0b4ea2", edgecolor="none", zorder=0)

    draw_main(fig)

    # the chart's own legend box, mostly hidden by the panel
    pixel_rect(fig, 1624, 600, 1630, 640, facecolor="#14127a", edgecolor="none", zorder=2)
    pixel_rect(fig, 1495, 600, 1624, 646, facecolor="#f6f3cf", edgecolor="#2a2a80", lw=1.6, zorder=2)

    # red box round 2000-2008
    pixel_rect(fig, 756, 632, 1586, 1040.5, facecolor="none", edgecolor="#ff0000", lw=4.4, zorder=3)

    draw_inset(fig)

    fig.text(1618 / W, 1 - 1034 / H, "(Gendt et al. 2010, IGS workshop )", fontsize=19,
             color="#1f5fa8", ha="left", va="center")
    fig.savefig("out.png", dpi=100)


# ------------------------------------------------------------------------

if __name__ == "__main__":
    run()
